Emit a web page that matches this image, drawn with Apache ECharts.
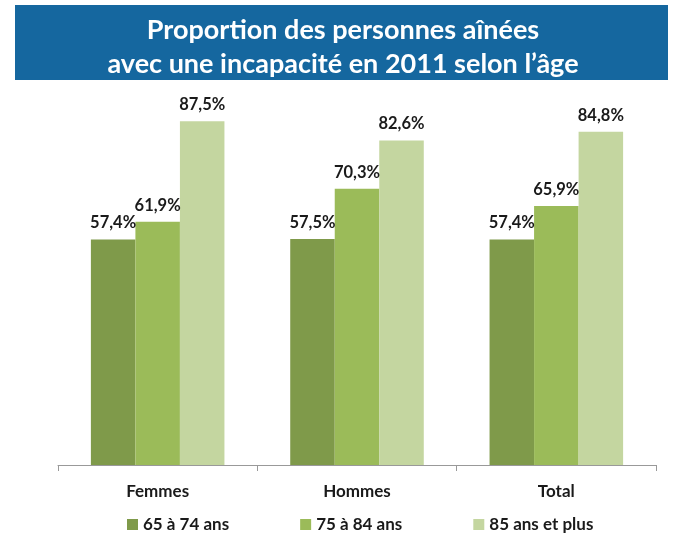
<!DOCTYPE html>
<html>
<head>
<meta charset="utf-8">
<script src="https://cdn.jsdelivr.net/npm/echarts@6/dist/echarts.min.js"></script>
<style>
  html, body { margin: 0; padding: 0; background: #fff; }
  #chart { width: 686px; height: 533px; }
</style>
</head>
<body>
<div id="chart"></div>
<script>
const categories = ['Femmes', 'Hommes', 'Total']
const seriesNames = ['65 à 74 ans', '75 à 84 ans', '85 ans et plus']
const age65to74 = [57.4, 57.5, 57.4]
const age75to84 = [61.9, 70.3, 65.9]
const age85plus = [87.5, 82.6, 84.8]
const colors = ['#7f9a4a', '#9bbb59', '#c4d6a0']

const chart = echarts.init(document.getElementById('chart'))
const font = 'Lato, "Open Sans", sans-serif'

const makeSeries = (name, data, color) => ({
  name: name,
  type: 'bar',
  data: data,
  barGap: '0%',
  barCategoryGap: '33%',
  itemStyle: { color: color },
  label: {
    show: true,
    position: 'top',
    distance: 8,
    formatter: (p) => p.value.toFixed(1).replace('.', ',') + '%',
    color: '#1a1a1a',
    fontWeight: 'bold',
    fontSize: 16.5,
    fontFamily: font
  }
})

const option = {
  animation: false,
  title: {
    text: 'Proportion des personnes aînées\navec une incapacité en 2011 selon l’âge',
    left: 'center',
    top: 8,
    textStyle: {
      color: '#fff',
      fontSize: 27,
      fontWeight: 'bold',
      fontFamily: font,
      lineHeight: 34
    }
  },
  graphic: [
    {
      type: 'rect',
      left: 15,
      top: 5,
      z: -1,
      shape: { width: 653, height: 75 },
      style: { fill: '#15679f' }
    }
  ],
  legend: {
    data: seriesNames,
    left: 122,
    top: 511,
    itemWidth: 11,
    itemHeight: 11,
    itemGap: 71,
    icon: 'rect',
    textStyle: {
      color: '#1a1a1a',
      fontWeight: 'bold',
      fontSize: 17,
      fontFamily: font
    }
  },
  grid: {
    left: 58,
    right: 30,
    top: 72,
    bottom: 68
  },
  xAxis: {
    type: 'category',
    data: categories,
    axisLine: { lineStyle: { color: '#999' } },
    axisTick: { show: true, length: 6, lineStyle: { color: '#999' } },
    axisLabel: {
      margin: 18,
      color: '#1a1a1a',
      fontWeight: 'bold',
      fontSize: 17,
      fontFamily: font
    }
  },
  yAxis: {
    type: 'value',
    min: 0,
    max: 100,
    show: false
  },
  series: [
    makeSeries(seriesNames[0], age65to74, colors[0]),
    makeSeries(seriesNames[1], age75to84, colors[1]),
    makeSeries(seriesNames[2], age85plus, colors[2])
  ]
}

chart.setOption(option)
</script>
</body>
</html>
